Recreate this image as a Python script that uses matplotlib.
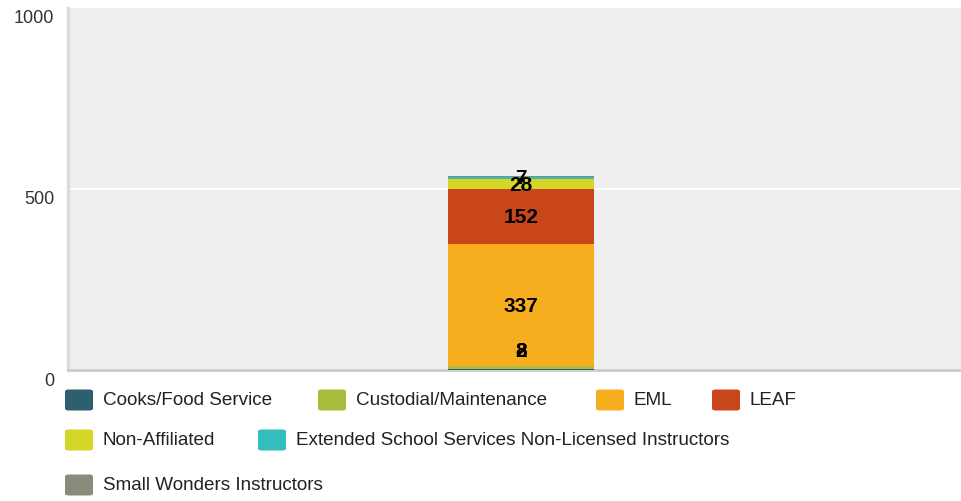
import numpy as np
import matplotlib.pyplot as plt
from matplotlib.patches import FancyBboxPatch
from matplotlib.transforms import ScaledTranslation

plt.rcParams['font.family'] = ['Liberation Sans', 'DejaVu Sans']

# staff counts by group, stacked bottom to top
groups = ["Cooks/Food Service", "Custodial/Maintenance", "EML", "LEAF",
          "Non-Affiliated", "Extended School Services Non-Licensed Instructors",
          "Small Wonders Instructors"]
counts = [2, 8, 337, 152, 28, 7, 3]
show_label = [True, True, True, True, True, True, False]
colors = ["#2E5F6E", "#A9BC3B", "#F6AE1F", "#C9461B", "#D3D627", "#33BEBF", "#8A8B7B"]

y_ticks = [0, 500, 1000]

fig = plt.figure(figsize=(9.62, 5.02), dpi=100)
ax = fig.add_axes([68 / 962, (502 - 371) / 502, (962 - 68) / 962, 362 / 502])
ax.set_facecolor("#EFEFEF")

bottom = 0
for name, val, col, lab in zip(groups, counts, colors, show_label):
    ax.bar(0, val, width=0.163, bottom=bottom, color=col, label=name, zorder=3)
    if lab:
        # keep labels of tiny segments inside the plot
        ypos = max(bottom + val / 2, 55)
        ax.text(0, ypos, str(val), ha="center", va="center", fontsize=15,
                fontweight="bold", color="black", zorder=4)
    bottom += val

ax.set_xlim(-0.507, 0.493)
ax.set_ylim(0, 1000)
ax.set_xticks([])
ax.set_yticks(y_ticks)
ax.set_yticklabels([str(t) for t in y_ticks], fontsize=13, color="#333333")
ax.tick_params(axis="y", length=0, pad=10)
shift = ScaledTranslation(0, -8 / 100, fig.dpi_scale_trans)
for lbl in ax.get_yticklabels():
    lbl.set_transform(lbl.get_transform() + shift)
ax.axhline(500, color="white", lw=1.5, zorder=1)

for s in ["top", "right"]:
    ax.spines[s].set_visible(False)
ax.spines["left"].set_color("#DCDCDC")
ax.spines["left"].set_linewidth(2.5)
ax.spines["bottom"].set_color("#CCCCCC")
ax.spines["bottom"].set_linewidth(2)

# legend drawn by hand in pixel positions
rows = [[0, 1, 2, 3], [4, 5], [6]]
row_y = [401, 441, 486]
row_x = [[65, 318, 596, 712], [65, 258], [65]]
W, H = 962, 502
for r, idxs in enumerate(rows):
    for i, xi in zip(idxs, row_x[r]):
        yc = row_y[r]
        box = FancyBboxPatch(((xi) / W, (H - yc - 10.5) / H), 28 / W, 21 / H,
                             boxstyle="round,pad=0,rounding_size=0.004",
                             transform=fig.transFigure, facecolor=colors[i],
                             edgecolor="none")
        fig.patches.append(box)
        fig.text((xi + 38) / W, (H - yc) / H, groups[i], fontsize=13.6,
                 color="#222222", va="center", ha="left")

fig.savefig("out.png", dpi=100)
